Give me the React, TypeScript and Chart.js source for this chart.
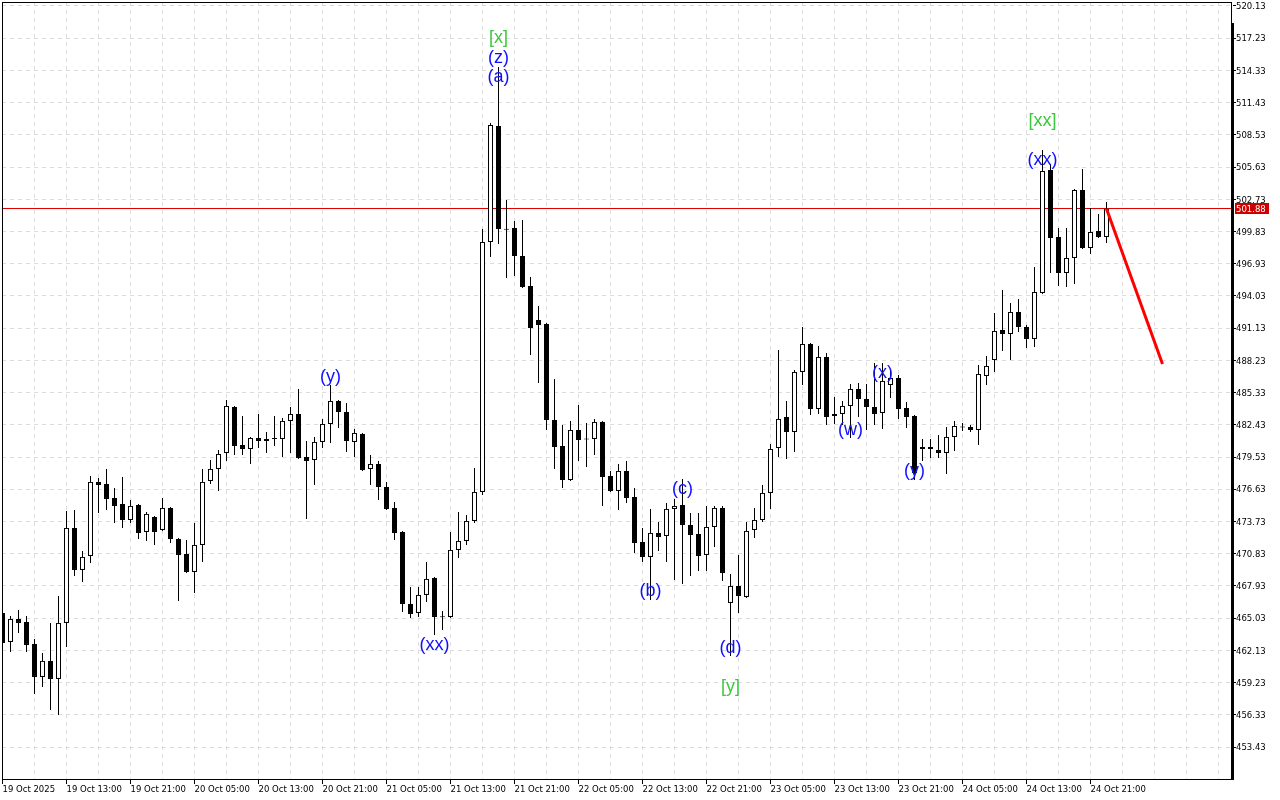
import React, { useEffect, useRef } from 'react';
import { Chart, registerables } from 'chart.js';

Chart.register(...registerables);

// Hourly candles, first one = 19 Oct 2025 05:00
const opens = [
  465.50, 462.89, 464.96, 464.69, 462.71, 459.74, 461.18, 459.56, 464.60, 473.15,
  469.37, 470.63, 477.29, 477.11, 475.85, 475.31, 473.87, 475.22, 472.79, 474.14,
  472.97, 474.95, 472.16, 470.81, 469.19, 471.62, 477.38, 478.46, 479.90, 484.04,
  480.62, 480.26, 481.25, 481.16, 481.16, 481.16, 482.78, 483.41, 479.54, 479.27,
  480.89, 482.51, 484.58, 483.59, 480.89, 481.61, 478.46, 478.91, 476.84, 474.95,
  472.79, 466.31, 465.50, 467.12, 468.65, 465.14, 465.14, 471.17, 471.98, 473.78,
  476.39, 498.89, 509.33, 500.06, 500.15, 497.63, 494.93, 491.87, 491.51, 482.87,
  480.53, 477.47, 481.97, 481.16, 481.16, 482.69, 477.83, 476.48, 478.28, 475.94,
  471.89, 470.54, 472.70, 472.43, 474.86, 475.22, 473.42, 472.61, 470.72, 473.24,
  474.95, 466.40, 467.93, 466.94, 472.97, 473.87, 476.30, 480.35, 483.14, 481.79,
  487.19, 489.71, 483.86, 488.54, 483.41, 483.41, 484.13, 485.66, 484.76, 484.04,
  483.50, 486.02, 486.65, 483.95, 483.23, 480.44, 480.44, 480.17, 479.90, 481.34,
  482.24, 482.24, 481.97, 486.83, 488.27, 490.97, 490.61, 492.59, 491.24, 490.16,
  494.30, 505.37, 499.34, 496.10, 497.45, 503.57, 498.35, 499.88, 499.34,
];
const highs = [
  465.59, 465.23, 465.77, 465.23, 463.16, 461.90, 464.60, 467.03, 474.68, 474.77,
  471.08, 477.83, 477.65, 478.46, 476.75, 477.74, 475.67, 475.31, 474.59, 474.23,
  475.85, 475.04, 472.25, 472.07, 473.60, 478.46, 479.27, 480.17, 484.67, 484.13,
  483.23, 481.34, 483.41, 481.79, 483.23, 483.05, 484.04, 485.66, 480.98, 481.34,
  482.96, 486.02, 484.67, 484.40, 482.06, 481.70, 479.72, 479.18, 477.29, 475.49,
  472.88, 467.84, 467.84, 470.09, 468.74, 465.68, 472.79, 474.59, 474.32, 478.55,
  500.06, 509.60, 514.64, 502.67, 500.78, 500.87, 495.74, 493.13, 491.60, 486.56,
  482.42, 482.78, 484.22, 482.60, 482.96, 482.78, 478.28, 478.91, 479.18, 476.75,
  473.15, 474.86, 473.69, 475.40, 475.76, 477.56, 474.50, 474.50, 475.13, 475.13,
  475.13, 469.01, 470.72, 473.69, 474.95, 477.02, 480.71, 489.17, 484.58, 487.37,
  491.24, 489.80, 489.53, 488.90, 484.94, 484.58, 486.11, 486.20, 486.11, 488.00,
  488.00, 487.37, 486.92, 484.49, 483.32, 481.16, 481.16, 481.52, 482.24, 482.78,
  482.60, 482.42, 487.82, 488.63, 492.50, 494.57, 493.40, 493.76, 491.42, 496.64,
  507.17, 505.90, 500.15, 500.15, 503.66, 505.46, 501.95, 501.41, 502.49,
];
const lows = [
  462.08, 461.99, 463.70, 461.99, 458.21, 458.84, 456.77, 456.32, 462.44, 468.83,
  468.29, 470.00, 474.50, 474.77, 473.60, 473.15, 473.60, 472.16, 471.98, 471.62,
  472.88, 471.80, 466.58, 469.10, 467.30, 470.09, 477.11, 476.48, 479.18, 479.72,
  479.72, 478.91, 480.35, 479.90, 480.53, 479.54, 479.90, 479.36, 473.96, 477.02,
  480.35, 480.80, 482.15, 479.99, 479.54, 478.28, 477.02, 475.67, 474.77, 472.07,
  465.59, 465.05, 465.14, 466.49, 463.52, 463.97, 465.05, 470.45, 471.62, 473.60,
  476.12, 497.54, 498.71, 495.65, 495.83, 494.75, 488.72, 486.20, 481.97, 478.46,
  476.75, 477.38, 479.18, 478.64, 479.72, 475.13, 476.39, 474.77, 475.40, 470.90,
  470.09, 466.67, 471.08, 470.09, 468.47, 468.11, 468.83, 469.28, 469.28, 471.44,
  468.38, 461.63, 465.50, 466.85, 472.25, 473.69, 474.86, 479.54, 479.36, 479.99,
  486.02, 483.32, 483.41, 482.42, 482.51, 482.42, 481.25, 483.14, 481.97, 482.42,
  482.06, 484.85, 482.96, 482.15, 477.47, 479.18, 479.45, 479.45, 478.01, 480.08,
  481.88, 481.79, 480.62, 486.02, 487.19, 489.08, 488.27, 490.79, 489.35, 489.44,
  494.21, 496.10, 494.93, 494.84, 495.11, 498.26, 497.81, 499.25, 498.80,
];
const closes = [
  462.80, 464.96, 464.60, 462.62, 459.74, 461.18, 459.56, 464.60, 473.15, 469.37,
  470.54, 477.29, 477.02, 475.76, 475.13, 473.87, 475.13, 472.70, 474.41, 472.79,
  474.95, 472.16, 470.72, 469.19, 471.62, 477.29, 478.46, 479.81, 484.13, 480.53,
  480.26, 481.25, 480.98, 480.98, 481.16, 482.78, 483.41, 479.45, 479.18, 480.89,
  482.51, 484.58, 483.59, 480.98, 481.70, 478.37, 478.91, 476.84, 474.86, 472.70,
  466.31, 465.41, 467.12, 468.56, 465.14, 465.10, 471.17, 471.98, 473.78, 476.39,
  498.89, 509.42, 500.06, 500.00, 497.63, 494.84, 491.15, 491.42, 482.87, 480.44,
  477.47, 481.97, 481.07, 481.10, 482.69, 477.74, 476.48, 478.28, 475.85, 471.80,
  470.54, 472.70, 472.34, 474.86, 475.13, 473.42, 472.52, 470.63, 473.24, 474.95,
  469.10, 467.93, 467.03, 472.88, 473.87, 476.30, 480.26, 482.96, 481.79, 487.19,
  489.71, 483.86, 488.54, 483.14, 483.23, 484.13, 485.66, 484.76, 484.04, 483.41,
  486.38, 486.65, 483.86, 483.14, 478.10, 480.26, 480.26, 479.90, 481.34, 482.33,
  482.20, 481.97, 487.01, 487.73, 490.88, 490.61, 492.59, 491.24, 490.16, 494.39,
  505.28, 499.25, 496.10, 497.45, 503.57, 498.35, 499.79, 499.34, 501.88,
];

const xTickLabels = [
  '19 Oct 2025', '19 Oct 13:00', '19 Oct 21:00', '20 Oct 05:00', '20 Oct 13:00', '20 Oct 21:00',
  '21 Oct 05:00', '21 Oct 13:00', '21 Oct 21:00', '22 Oct 05:00', '22 Oct 13:00', '22 Oct 21:00',
  '23 Oct 05:00', '23 Oct 13:00', '23 Oct 21:00', '24 Oct 05:00', '24 Oct 13:00', '24 Oct 21:00',
];
const yTickValues = [
  520.13, 517.23, 514.33, 511.43, 508.53, 505.63, 502.73, 499.83, 496.93, 494.03, 491.13, 488.23,
  485.33, 482.43, 479.53, 476.63, 473.73, 470.83, 467.93, 465.03, 462.13, 459.23, 456.33, 453.43,
];
const currentPrice = 501.88;

const forecastIdx = [138, 145];
const forecastPrice = [501.88, 487.9];

const waveText = ['(y)', '(xx)', '[x]', '(z)', '(a)', '(b)', '(c)', '(d)', '[y]', '(w)', '(x)', '(y)', '[xx]', '(xx)'];
const waveIdx = [41, 54, 62, 62, 62, 81, 85, 91, 91, 106, 110, 114, 130, 130];
const wavePrice = [486.7, 462.65, 517.25, 515.45, 513.73, 467.43, 476.62, 462.38, 458.87, 481.93, 487.07, 478.24, 509.77, 506.26];
const waveGreen = [false, false, true, false, false, false, false, false, true, false, false, false, true, false];

const Y_MIN = 450.55;
const Y_MAX = 520.49;
const X_MIN = -0.0625;
const X_MAX = 153.5625;
const TICK_FONT = { family: "'DejaVu Sans', sans-serif", size: 8.5 };

export default function App() {
  const ref = useRef<HTMLCanvasElement>(null);

  useEffect(() => {
    const canvas = ref.current;
    if (!canvas) return;
    const n = opens.length;
    const bodies: any[] = [];
    const wicks: any[] = [];
    const bodyColors: string[] = [];
    for (let i = 0; i < n; i++) {
      bodies.push({ x: i, y: [opens[i], closes[i]] });
      wicks.push({ x: i, y: [lows[i], highs[i]] });
      bodyColors.push(closes[i] > opens[i] ? '#ffffff' : '#000000');
    }
    const forecast = forecastIdx.map((x, k) => ({ x, y: forecastPrice[k] }));
    const xGrid: number[] = [];
    for (let v = 0; v <= 152; v += 4) xGrid.push(v);

    const framePlugin = {
      id: 'mt4frame',
      beforeDatasetsDraw(chart: any) {
        const { ctx, chartArea, scales } = chart;
        const y = Math.floor(scales.y.getPixelForValue(currentPrice));
        ctx.save();
        ctx.fillStyle = '#e00000';
        ctx.fillRect(chartArea.left, y, chartArea.right - chartArea.left, 1);
        ctx.restore();
      },
      afterDraw(chart: any) {
        const { ctx, chartArea, scales } = chart;
        const { left, top, right, bottom } = chartArea;
        ctx.save();
        ctx.fillStyle = '#000';
        // frame
        ctx.fillRect(left, top, right - left, 1);
        ctx.fillRect(left, top, 1, bottom - top);
        ctx.fillRect(left, bottom, right - left + 3, 1);
        ctx.fillRect(right, top, 1, 21);
        ctx.fillRect(right, top + 21, 3, bottom - top - 20);
        // y tick marks
        yTickValues.forEach((v) => {
          const py = Math.floor(scales.y.getPixelForValue(v));
          ctx.fillRect(right + 2, py, 3, 1);
        });
        // x tick marks
        xTickLabels.forEach((_, k) => {
          const px = Math.floor(scales.x.getPixelForValue(k * 8));
          ctx.fillRect(px, bottom, 1, 5);
        });
        // price box
        const py = scales.y.getPixelForValue(currentPrice);
        ctx.fillStyle = '#cc0000';
        ctx.fillRect(right + 4, Math.round(py) - 6, 34, 11);
        ctx.fillStyle = '#ffffff';
        ctx.font = `${TICK_FONT.size}px ${TICK_FONT.family}`;
        ctx.textAlign = 'left';
        ctx.textBaseline = 'middle';
        ctx.fillText(currentPrice.toFixed(2), right + 5, Math.round(py) + 0.5);
        // wave labels
        ctx.font = "18px 'Liberation Sans', Arial, sans-serif";
        ctx.textAlign = 'center';
        ctx.textBaseline = 'middle';
        waveText.forEach((t, k) => {
          ctx.fillStyle = waveGreen[k] ? '#3cc83c' : '#1010ff';
          ctx.fillText(t, scales.x.getPixelForValue(waveIdx[k]), scales.y.getPixelForValue(wavePrice[k]));
        });
        ctx.restore();
      },
    };

    const chart = new Chart(canvas, {
      type: 'bar',
      data: {
        datasets: [
          {
            type: 'line',
            data: forecast,
            borderColor: '#ff0000',
            borderWidth: 3,
            pointRadius: 0,
            order: 0,
          } as any,
          {
            data: bodies,
            backgroundColor: bodyColors,
            borderColor: '#000000',
            borderWidth: 1,
            borderSkipped: false,
            maxBarThickness: 5,
            grouped: false,
            minBarLength: 1,
            order: 1,
          } as any,
          {
            data: wicks,
            backgroundColor: '#000000',
            borderWidth: 0,
            maxBarThickness: 1,
            grouped: false,
            order: 2,
          } as any,
        ],
      },
      options: {
        responsive: false,
        maintainAspectRatio: false,
        animation: false,
        devicePixelRatio: 1,
        layout: { padding: { left: 2, top: 2, right: 0, bottom: 0 }, autoPadding: false },
        plugins: { legend: { display: false }, tooltip: { enabled: false } },
        scales: {
          x: {
            type: 'linear',
            min: X_MIN,
            max: X_MAX,
            offset: false,
            bounds: 'data',
            afterBuildTicks: (s: any) => {
              s.ticks = xGrid.map((v) => ({ value: v }));
            },
            afterFit: (s: any) => {
              s.height = 21;
              s.paddingLeft = 0;
              s.paddingRight = 0;
            },
            grid: { color: '#dcdcdc', lineWidth: 1, drawTicks: false, offset: false },
            border: { display: false, dash: [4, 4] },
            ticks: {
              autoSkip: false,
              maxRotation: 0,
              minRotation: 0,
              align: 'start',
              padding: 6,
              color: '#000000',
              font: TICK_FONT,
              callback: (value: any) => {
                const v = Number(value);
                return v % 8 === 0 ? xTickLabels[v / 8] ?? '' : '';
              },
            },
          },
          y: {
            type: 'linear',
            position: 'right',
            min: Y_MIN,
            max: Y_MAX,
            bounds: 'data',
            beginAtZero: false,
            afterBuildTicks: (s: any) => {
              s.ticks = yTickValues.map((v) => ({ value: v }));
            },
            afterFit: (s: any) => {
              s.width = 49;
              s.paddingTop = 0;
              s.paddingBottom = 0;
            },
            grid: { color: '#dcdcdc', lineWidth: 1, drawTicks: false },
            border: { display: false, dash: [4, 4] },
            ticks: {
              autoSkip: false,
              padding: 5,
              labelOffset: 1,
              color: '#000000',
              font: TICK_FONT,
              callback: (value: any) => Number(value).toFixed(2),
            },
          },
        },
      } as any,
      plugins: [framePlugin],
    });
    return () => chart.destroy();
  }, []);

  return (
    <div style={{ position: 'fixed', left: 0, top: 0, width: 1280, height: 800, background: '#ffffff' }}>
      <canvas ref={ref} width={1280} height={800} style={{ display: 'block', width: 1280, height: 800 }} />
    </div>
  );
}
